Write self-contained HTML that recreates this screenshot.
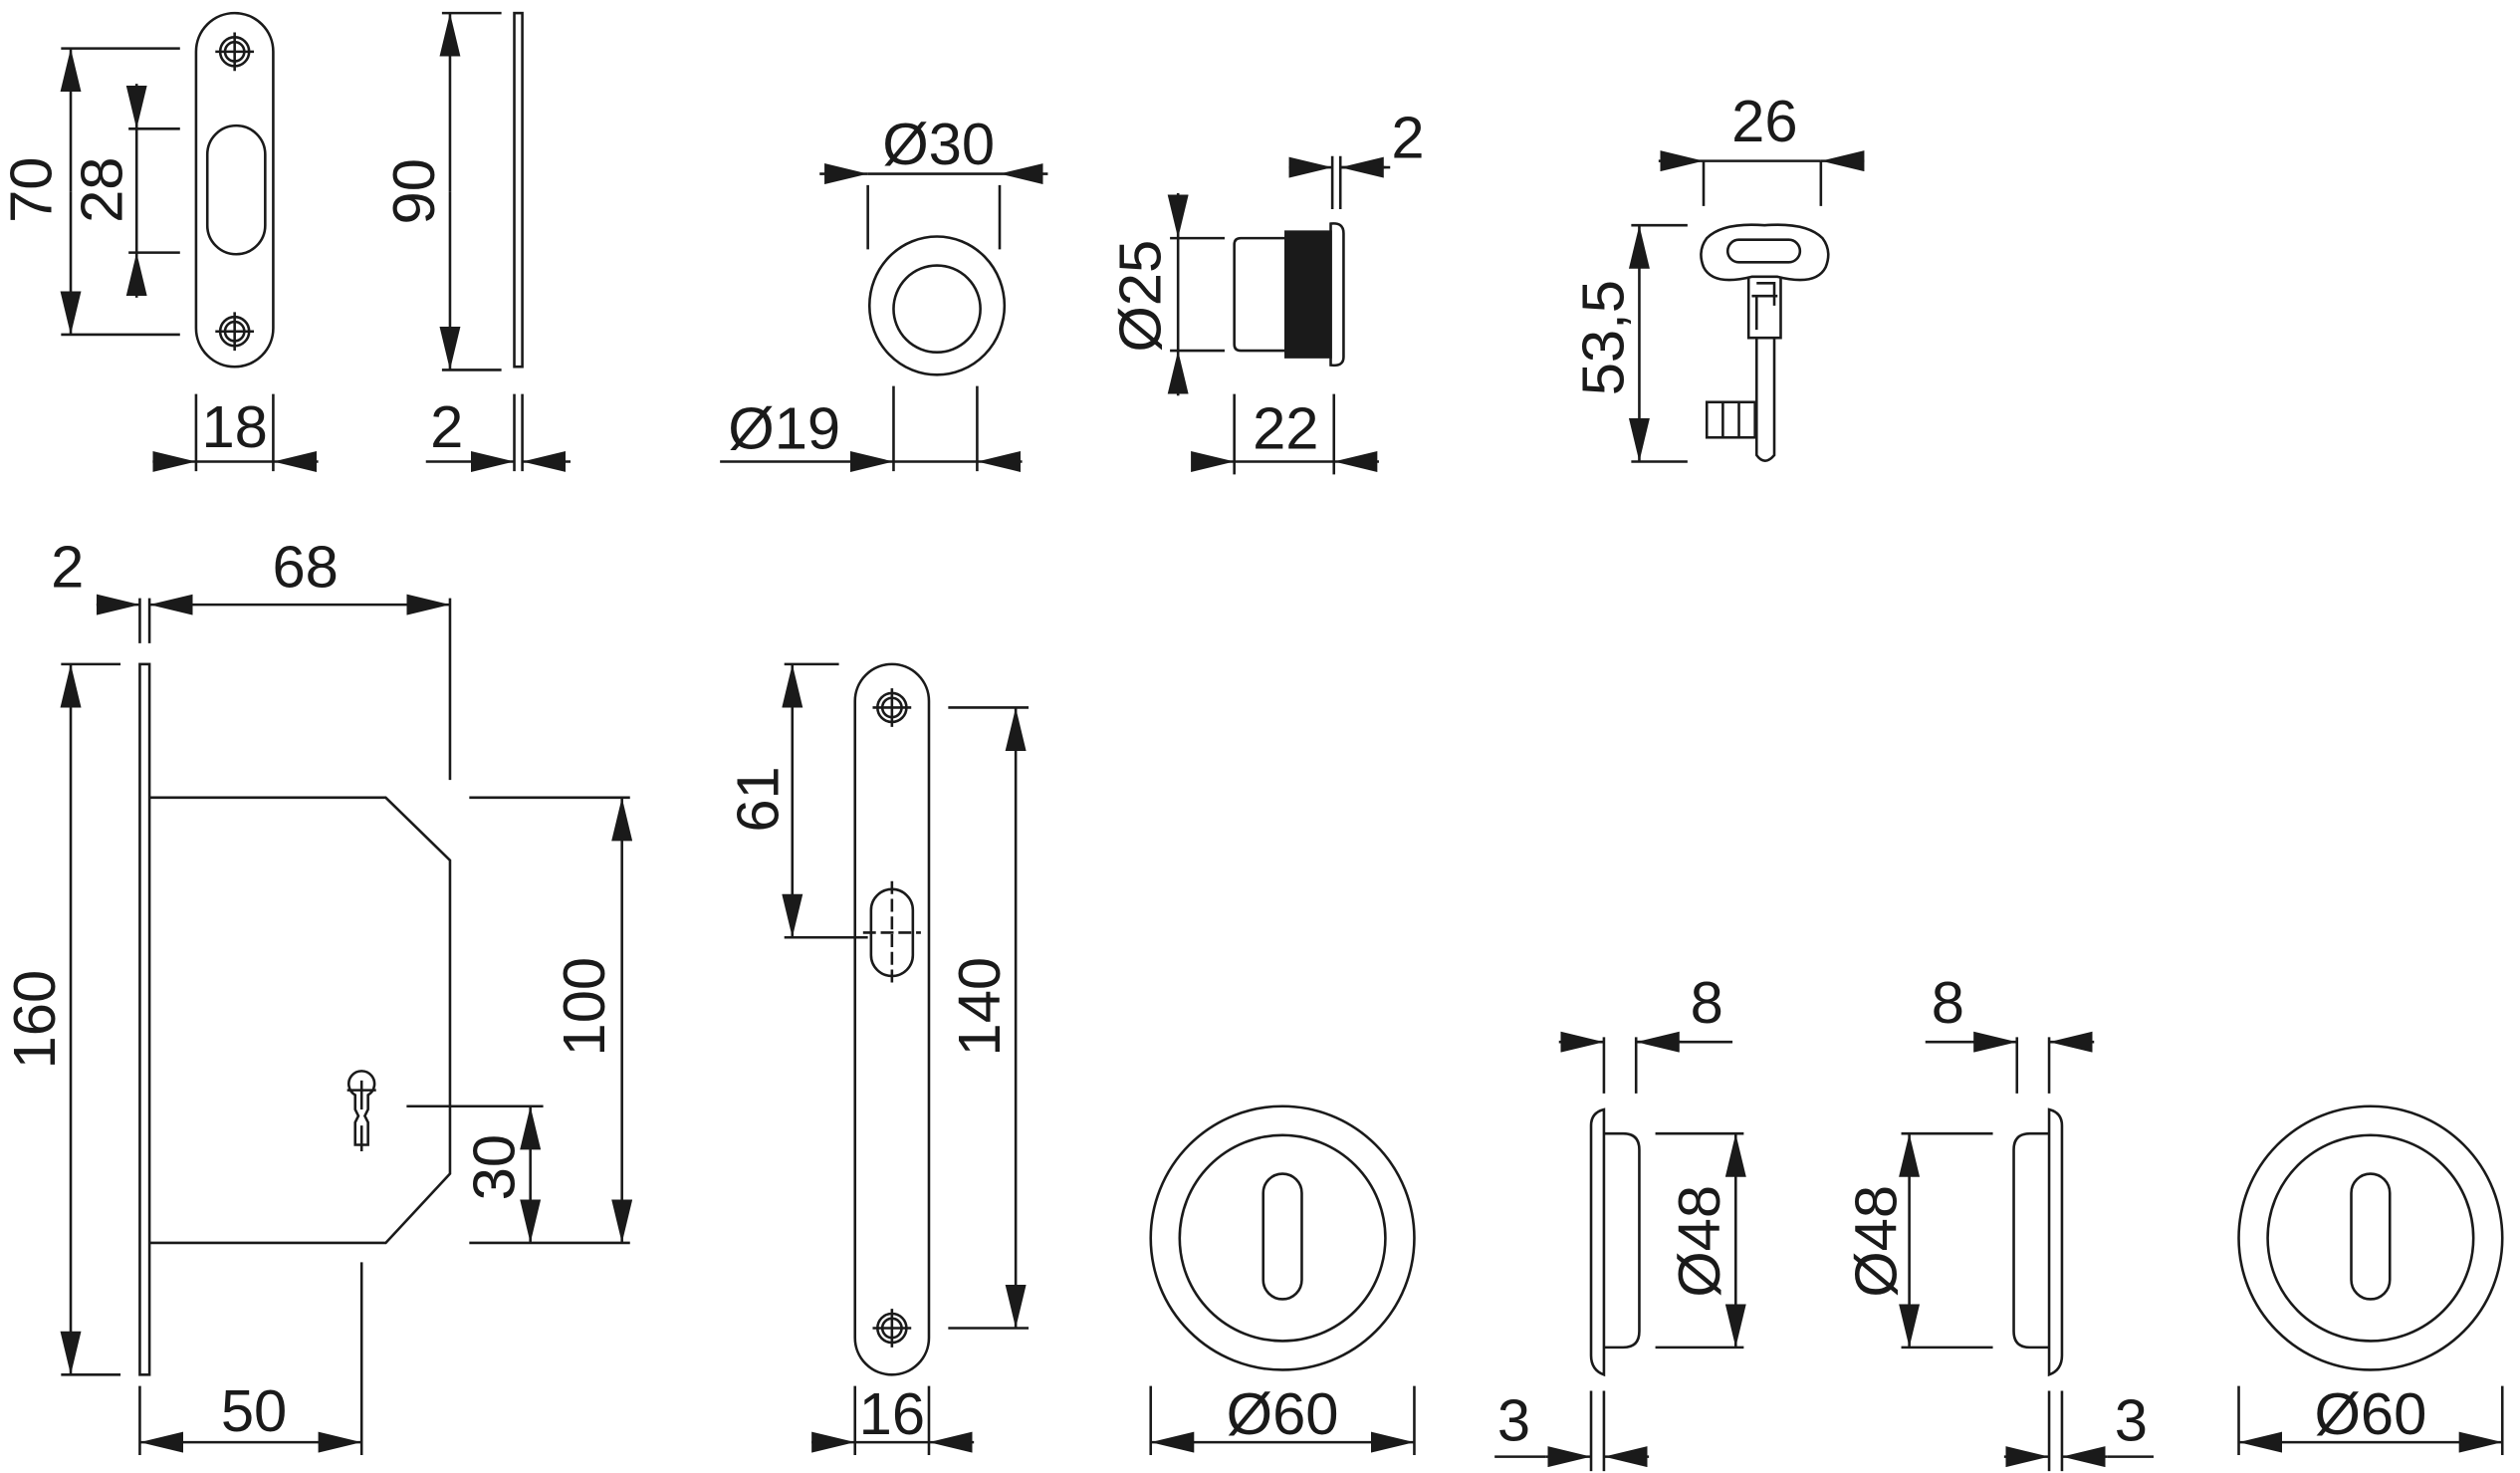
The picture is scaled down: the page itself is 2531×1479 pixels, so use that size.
<!DOCTYPE html>
<html><head><meta charset="utf-8"><style>
html,body{margin:0;padding:0;background:#fff;}
svg{display:block;}
text{font-family:"Liberation Sans Narrow","Liberation Sans",sans-serif;font-size:37px;fill:#1a1a1a;text-anchor:middle;}
</style></head><body>
<svg width="2531" height="1479" viewBox="0 0 1568 916" xmlns="http://www.w3.org/2000/svg">
<defs>
<marker id="a" markerUnits="userSpaceOnUse" markerWidth="27" markerHeight="13" refX="27" refY="6.5" orient="auto-start-reverse"><path d="M0,0 L27,6.5 L0,13 z" fill="#1a1a1a"/></marker>
</defs>
<g fill="none" stroke="#1a1a1a" stroke-width="1.6">
<rect x="122" y="8" width="48" height="220" rx="24"/>
<rect x="129" y="78" width="36" height="80" rx="18"/>
<circle cx="146" cy="32" r="9"/><circle cx="146" cy="32" r="6"/><path d="M146,20V44M134,32H158"/>
<circle cx="146" cy="206" r="9"/><circle cx="146" cy="206" r="6"/><path d="M146,194V218M134,206H158"/>
<path d="M38,30H112M38,208H112"/>
<line x1="44" y1="119" x2="44" y2="30" marker-end="url(#a)"/><line x1="44" y1="119" x2="44" y2="208" marker-end="url(#a)"/>
<path d="M80,80H112M80,157H112M85,80V157"/>
<line x1="85" y1="52" x2="85" y2="80" marker-end="url(#a)"/><line x1="85" y1="185" x2="85" y2="157" marker-end="url(#a)"/>
<path d="M122,245V293M170,245V293M122,287H170"/>
<line x1="95" y1="287" x2="122" y2="287" marker-end="url(#a)"/><line x1="198" y1="287" x2="170" y2="287" marker-end="url(#a)"/>
<rect x="320" y="8" width="5" height="220"/>
<path d="M275,8H312M275,230H312"/>
<line x1="280" y1="119" x2="280" y2="8" marker-end="url(#a)"/><line x1="280" y1="119" x2="280" y2="230" marker-end="url(#a)"/>
<path d="M320,245V293M325,245V293"/>
<line x1="265" y1="287" x2="320" y2="287" marker-end="url(#a)"/><line x1="355" y1="287" x2="325" y2="287" marker-end="url(#a)"/>
<ellipse cx="583" cy="190" rx="42" ry="43"/><circle cx="583" cy="192" r="27"/>
<path d="M540,115V155M622,115V155M540,108H622"/>
<line x1="510" y1="108" x2="540" y2="108" marker-end="url(#a)"/><line x1="652" y1="108" x2="622" y2="108" marker-end="url(#a)"/>
<path d="M556,240V293M608,240V293M556,287H608"/>
<line x1="448" y1="287" x2="556" y2="287" marker-end="url(#a)"/><line x1="636" y1="287" x2="608" y2="287" marker-end="url(#a)"/>
<path d="M772,148H800V218H772Q768,218 768,214V152Q768,148 772,148Z"/>
<rect x="800" y="144" width="28" height="78" fill="#1a1a1a"/>
<path d="M828,139Q836,138 836,145V222Q836,228 828,227Z"/>
<path d="M728,148H762M728,218H762M733,148V218"/>
<line x1="733" y1="120" x2="733" y2="148" marker-end="url(#a)"/><line x1="733" y1="246" x2="733" y2="218" marker-end="url(#a)"/>
<path d="M768,245V295M830,245V295M768,287H830"/>
<line x1="742" y1="287" x2="768" y2="287" marker-end="url(#a)"/><line x1="858" y1="287" x2="830" y2="287" marker-end="url(#a)"/>
<path d="M829,97V130M834,97V130"/>
<line x1="802" y1="104" x2="829" y2="104" marker-end="url(#a)"/><line x1="862" y1="104" x2="834" y2="104" marker-end="url(#a)"/><path d="M834,104H865"/>
<path d="M1060,128V100M1133,128V100M1060,100H1133"/>
<line x1="1032" y1="100" x2="1060" y2="100" marker-end="url(#a)"/><line x1="1160" y1="100" x2="1133" y2="100" marker-end="url(#a)"/>
<path d="M1015,140H1050M1015,287H1050"/>
<line x1="1020" y1="213" x2="1020" y2="140" marker-end="url(#a)"/><line x1="1020" y1="213" x2="1020" y2="287" marker-end="url(#a)"/>
<path d="M1090,172Q1066,178 1060,166Q1056,156 1062,148Q1072,138 1098,140Q1124,138 1134,148Q1140,156 1136,166Q1130,178 1106,172Z"/>
<rect x="1075" y="149" width="45" height="14" rx="7"/>
<path d="M1088,172V210H1108V172M1090,184H1106M1093,176H1104V190M1093,184V205M1093,210V283Q1098,290 1104,283V210"/>
<rect x="1062" y="250" width="30" height="22"/><path d="M1072,250V272M1082,250V272"/>
<rect x="87" y="413" width="6" height="442"/>
<path d="M93,496H240L280,535V730L240,773H93"/>
<path d="M221,681a8,8 0 1 1 8,0V690l-2,4 2,4V712H221V698l2,-4-2,-4Z M225,672V690M225,700V716M216,678H234"/>
<path d="M87,372V400M93,372V400M280,372V485"/>
<line x1="60" y1="376" x2="87" y2="376" marker-end="url(#a)"/>
<line x1="93" y1="376" x2="280" y2="376" marker-start="url(#a)" marker-end="url(#a)"/>
<path d="M38,413H75M38,855H75"/>
<line x1="44" y1="413" x2="44" y2="855" marker-start="url(#a)" marker-end="url(#a)"/>
<path d="M292,496H392M292,773H392"/>
<line x1="387" y1="496" x2="387" y2="773" marker-start="url(#a)" marker-end="url(#a)"/>
<path d="M253,688H338"/>
<line x1="330" y1="688" x2="330" y2="773" marker-start="url(#a)" marker-end="url(#a)"/>
<path d="M87,862V905M225,785V905"/>
<line x1="87" y1="897" x2="225" y2="897" marker-start="url(#a)" marker-end="url(#a)"/>
<rect x="532" y="413" width="46" height="442" rx="23"/>
<circle cx="555" cy="440" r="9"/><circle cx="555" cy="440" r="6"/><path d="M555,428V452M543,440H567"/>
<circle cx="555" cy="826" r="9"/><circle cx="555" cy="826" r="6"/><path d="M555,814V838M543,826H567"/>
<rect x="542" y="553" width="26" height="54" rx="13"/>
<path d="M555,548V612M537,580H573" stroke-dasharray="8,3"/>
<path d="M488,413H522M488,583H540"/>
<line x1="493" y1="413" x2="493" y2="583" marker-start="url(#a)" marker-end="url(#a)"/>
<path d="M590,440H640M590,826H640"/>
<line x1="632" y1="440" x2="632" y2="826" marker-start="url(#a)" marker-end="url(#a)"/>
<path d="M532,862V905M578,862V905M532,897H578"/>
<line x1="505" y1="897" x2="532" y2="897" marker-end="url(#a)"/><line x1="606" y1="897" x2="578" y2="897" marker-end="url(#a)"/>
<circle cx="798" cy="770" r="82"/><circle cx="798" cy="770" r="64"/><rect x="786" y="730" width="24" height="78" rx="12"/>
<path d="M716,862V905M880,862V905"/>
<line x1="716" y1="897" x2="880" y2="897" marker-start="url(#a)" marker-end="url(#a)"/>
<circle cx="1475" cy="770" r="82"/><circle cx="1475" cy="770" r="64"/><rect x="1463" y="730" width="24" height="78" rx="12"/>
<path d="M1393,862V905M1557,862V905"/>
<line x1="1393" y1="897" x2="1557" y2="897" marker-start="url(#a)" marker-end="url(#a)"/>
<path d="M998,690V855Q990,852 990,843V700Q990,692 998,690Z"/>
<path d="M998,705H1010Q1020,705 1020,715V828Q1020,838 1010,838H998"/>
<path d="M998,645V680M1018,645V680"/>
<line x1="970" y1="648" x2="998" y2="648" marker-end="url(#a)"/><line x1="1046" y1="648" x2="1018" y2="648" marker-end="url(#a)"/><path d="M1018,648H1078"/>
<path d="M1030,705H1085M1030,838H1085"/>
<line x1="1080" y1="705" x2="1080" y2="838" marker-start="url(#a)" marker-end="url(#a)"/>
<path d="M990,865V915M998,865V915"/>
<line x1="962" y1="906" x2="990" y2="906" marker-end="url(#a)"/><line x1="1026" y1="906" x2="998" y2="906" marker-end="url(#a)"/><path d="M930,906H962"/>
<path d="M1275,690V855Q1283,852 1283,843V700Q1283,692 1275,690Z"/>
<path d="M1275,705H1263Q1253,705 1253,715V828Q1253,838 1263,838H1275"/>
<path d="M1255,645V680M1275,645V680"/>
<line x1="1227" y1="648" x2="1255" y2="648" marker-end="url(#a)"/><line x1="1303" y1="648" x2="1275" y2="648" marker-end="url(#a)"/><path d="M1198,648H1227"/>
<path d="M1183,705H1240M1183,838H1240"/>
<line x1="1188" y1="705" x2="1188" y2="838" marker-start="url(#a)" marker-end="url(#a)"/>
<path d="M1275,865V915M1283,865V915"/>
<line x1="1247" y1="906" x2="1275" y2="906" marker-end="url(#a)"/><line x1="1311" y1="906" x2="1283" y2="906" marker-end="url(#a)"/><path d="M1311,906H1340"/>
</g>
<g>
<text transform="translate(32,118) rotate(-90)">70</text>
<text transform="translate(76,118) rotate(-90)">28</text>
<text x="146" y="278">18</text>
<text transform="translate(270,119) rotate(-90)">90</text>
<text x="278" y="278">2</text>
<text x="584" y="102">Ø30</text>
<text x="488" y="279">Ø19</text>
<text transform="translate(722,184) rotate(-90)">Ø25</text>
<text x="800" y="279">22</text>
<text x="876" y="98">2</text>
<text x="1098" y="88">26</text>
<text transform="translate(1010,210) rotate(-90)">53,5</text>
<text x="42" y="365">2</text>
<text x="190" y="365">68</text>
<text transform="translate(34,634) rotate(-90)">160</text>
<text transform="translate(376,626) rotate(-90)">100</text>
<text transform="translate(320,726) rotate(-90)">30</text>
<text x="158" y="890">50</text>
<text transform="translate(484,497) rotate(-90)">61</text>
<text transform="translate(622,626) rotate(-90)">140</text>
<text x="555" y="892">16</text>
<text x="798" y="892">Ø60</text>
<text x="1475" y="892">Ø60</text>
<text x="1062" y="636">8</text>
<text x="1212" y="636">8</text>
<text transform="translate(1070,772) rotate(-90)">Ø48</text>
<text transform="translate(1180,772) rotate(-90)">Ø48</text>
<text x="942" y="896">3</text>
<text x="1326" y="896">3</text>
</g>
</svg>
</body></html>
